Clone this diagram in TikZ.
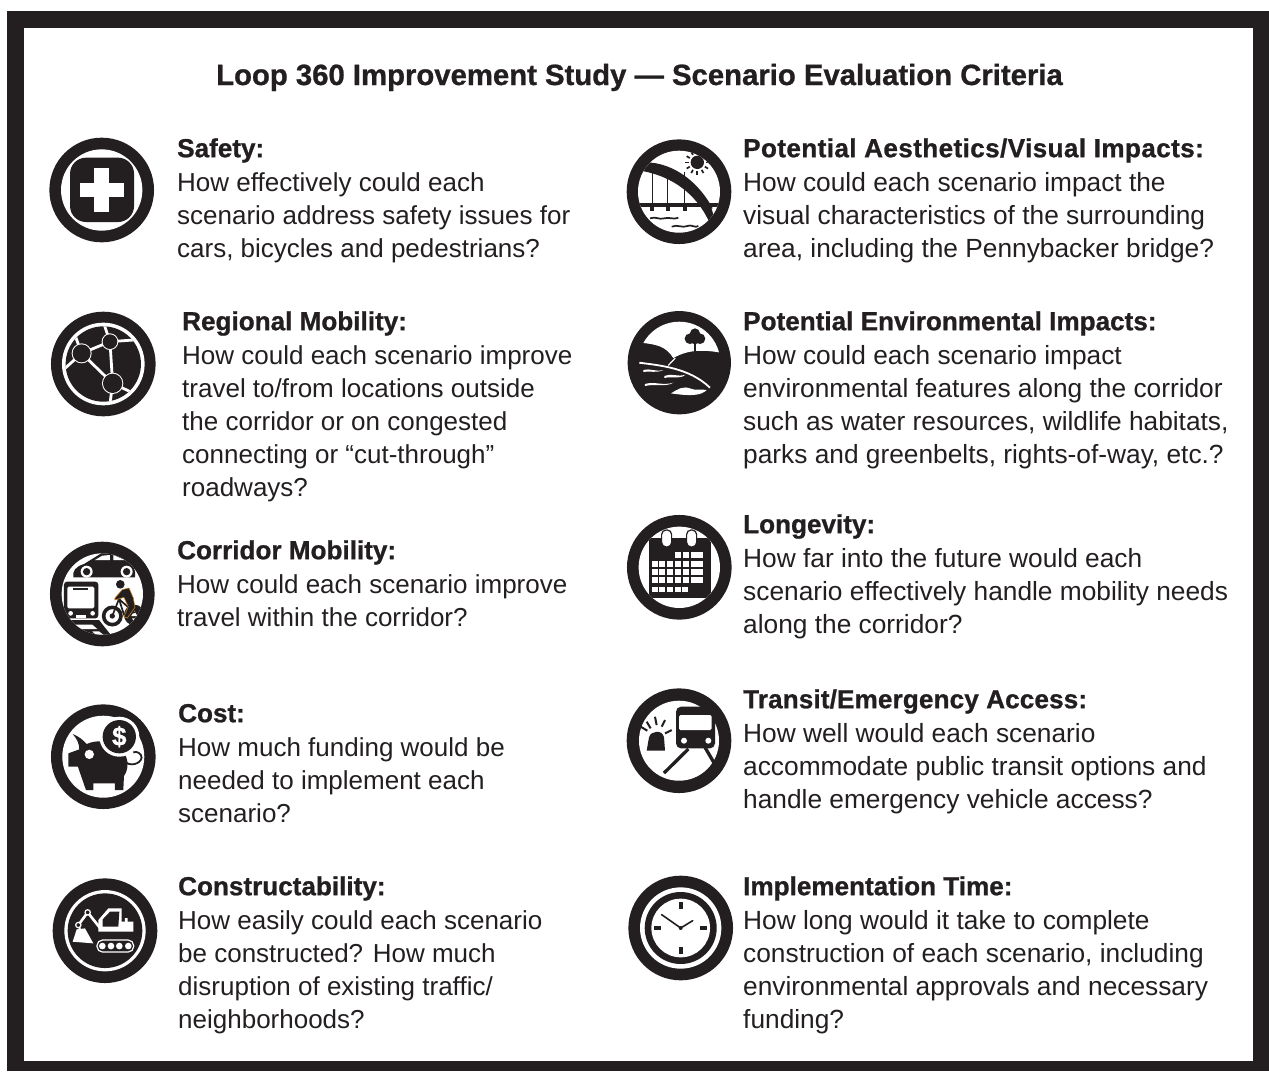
\documentclass[tikz,border=0pt]{standalone}
\usepackage{fontspec}
\usetikzlibrary{calc}
\setmainfont{Liberation Sans}
\newfontfamily\headfam[FakeBold=0.9]{Liberation Sans Bold}
\definecolor{ink}{HTML}{231F20}
\definecolor{bikeorange}{HTML}{C47A1E}
\newcommand\headfont{\headfam\fontsize{26.1}{33}\selectfont}
\newcommand\crit[6][26]{\node[crit,font={\fontsize{#1}{33.05}\selectfont}] (#2) at ({#3},{#4-25}) {\rule{0pt}{24pt}{\headfont #5}\\[1pt] #6};}
\tikzset{
  crit/.style={anchor=north west,align=left,inner sep=0pt,text=ink},
  icon/.style={shift={#1},x=0.3333pt,y=-0.3333pt,line cap=butt},
  wl/.style={draw=white,line width=#1},
  bl/.style={draw=ink,line width=#1},
}
\newcommand\ringicon[1]{\fill[ink] (0,0) circle (157);\fill[white] (0,0) circle (#1);}
\begin{document}
\begin{tikzpicture}[x=1pt,y=-1pt]
\useasboundingbox (0,0) rectangle (1269,1071);
\fill[white] (0,0) rectangle (1269,1071);
\fill[ink] (7,11) rectangle (1269,1071);
\fill[white] (24,28) rectangle (1253,1061);
\node[anchor=base,inner sep=0pt,text=ink,font={\headfam\fontsize{29.3}{34}\selectfont}] (title) at (639.5,85) {Loop 360 Improvement Study — Scenario Evaluation Criteria};

\crit{safety}{177}{158}{Safety:}{How effectively could each\\scenario address safety issues for\\cars, bicycles and pedestrians?}
\crit{regional}{182}{331}{Regional Mobility:}{How could each scenario improve\\travel to/from locations outside\\the corridor or on congested\\connecting or “cut-through”\\roadways?}
\crit{corridor}{177}{560}{Corridor Mobility:}{How could each scenario improve\\travel within the corridor?}
\crit{cost}{178}{723}{Cost:}{How much funding would be\\needed to implement each\\scenario?}
\crit{construct}{178}{896}{Constructability:}{How easily could each scenario\\be constructed? How much\\disruption of existing traffic/\\neighborhoods?}
\crit[26.3]{aesthetic}{743}{158}{\addfontfeature{LetterSpace=1.5}Potential Aesthetics/Visual Impacts:}{How could each scenario impact the\\visual characteristics of the surrounding\\area, including the Pennybacker bridge?}
\crit[26.3]{environ}{743}{331}{Potential Environmental Impacts:}{How could each scenario impact\\environmental features along the corridor\\such as water resources, wildlife habitats,\\parks and greenbelts, rights-of-way, etc.?}
\crit[26.3]{longevity}{743}{534}{Longevity:}{How far into the future would each\\scenario effectively handle mobility needs\\along the corridor?}
\crit[26.3]{transit}{743}{709}{\addfontfeature{LetterSpace=0.5}Transit/Emergency Access:}{How well would each scenario\\accommodate public transit options and\\handle emergency vehicle access?}
\crit[26.3]{implement}{743}{896}{Implementation Time:}{How long would it take to complete\\construction of each scenario, including\\environmental approvals and necessary\\funding?}

% Safety
\begin{scope}[icon={(101.7,190)}]
\ringicon{122}
\fill[ink,rounded corners=16pt] (-95,-97) rectangle (97,96);
\fill[white] (-23,-66) rectangle (23,66);
\fill[white] (-66,-22) rectangle (66,22);
\end{scope}

% Regional mobility
\begin{scope}[icon={(103.3,364)}]
\ringicon{124}
\fill[ink] (0,0) circle (113);
\begin{scope}
\clip (0,0) circle (113);
\foreach \a/\b/\c/\d in {-65/-32/20/-67,20/-67/28/58,-65/-32/28/58,-65/-32/-125/22,-65/-32/-88/-95,20/-67/2/-120,20/-67/90/-72,28/58/20/120,28/58/85/85}
  \draw[wl=2.8pt] (\a,\b) -- (\c,\d);
\end{scope}
\foreach \a/\b/\r in {-65/-32/27,20/-67/22,28/58/29}{
  \fill[white] (\a,\b) circle (\r+3);
  \fill[ink] (\a,\b) circle (\r);
}
\end{scope}

% Corridor mobility
\begin{scope}[icon={(102.3,594)}]
\ringicon{122}
\begin{scope}
\clip (0,0) circle (122);
% car
\fill[ink] (-87,-50) .. controls (-90,-70) and (-80,-82) .. (-55,-90) -- (-3,-122) -- (42,-122) -- (78,-100) .. controls (95,-90) and (100,-75) .. (98,-50) -- cycle;
\fill[white] (-22,-102) -- (0,-115) -- (23,-117) -- (23,-102) -- cycle;
\fill[white] (33,-117) -- (68,-102) -- (33,-102) -- cycle;
\foreach \a in {-47,73}{\fill[white] (\a,-67) circle (18);\fill[ink] (\a,-67) circle (11);}
% train
\fill[ink,rounded corners=3pt] (-115,-37) rectangle (-12,73);
\fill[white,rounded corners=1.5pt] (-105,-22) rectangle (-24,43);
\fill[ink] (-87,-18) rectangle (-42,-12);
\fill[white] (-95,58) circle (7);\fill[white] (-29,58) circle (7);
\fill[white] (-78,62) rectangle (-50,72);
% rails
\fill[ink] (-125,78) -- (-10,78) -- (25,122) -- (-95,122) -- cycle;
\fill[white] (-88,92) -- (-30,92) -- (-15,105) -- (-95,105) -- cycle;
\fill[white] (-30,112) -- (-10,112) -- (3,122) -- (-20,122) -- cycle;
% bike
\draw[bl=3.6pt] (30,66) circle (26);
\fill[ink] (30,66) circle (8);
\fill[ink] (96,63) circle (31);
\fill[white] (96,50) -- (105,66) -- (87,66) -- cycle;
\fill[white] (89,73) -- (103,73) -- (96,83) -- cycle;
\fill[ink] (54,-29) circle (13);
\draw[ink,line width=1.7pt] (30,66) -- (50,15) -- (95,55) -- (65,62) -- (50,15);
\fill[ink,draw=bikeorange,line width=0.6pt,line join=round] (38,12) -- (60,-13) -- (80,-18) -- (93,12) -- (98,40) -- (75,72) -- (65,68) -- (78,38) -- (65,10) -- (38,18) -- cycle;
\end{scope}
\end{scope}

% Cost
\begin{scope}[icon={(103.3,756.7)}]
\ringicon{123}
\fill[ink] (-92,-68) .. controls (-75,-62) and (-60,-50) .. (-50,-38) .. controls (-20,-52) and (30,-50) .. (55,-20) .. controls (80,5) and (75,40) .. (62,58) -- (60,100) -- (35,100) -- (35,80) -- (-30,80) -- (-30,100) -- (-52,100) -- (-70,48) -- (-76,30) -- (-105,30) -- (-105,-10) -- (-72,-22) .. controls (-72,-40) and (-80,-55) .. (-92,-68) -- cycle;
\fill[white] (-42,-7) circle (14);
\draw[bl=1.8pt] (62,12) .. controls (78,32) and (112,22) .. (115,3) .. controls (115,-10) and (100,-18) .. (90,-13);
\fill[white] (48,-60) circle (60);
\fill[ink] (48,-60) circle (50);
\node[text=white,inner sep=0pt,font={\headfam\fontsize{26}{26}\selectfont}] (costsign) at (48,-60) {\$};
\end{scope}

% Constructability
\begin{scope}[icon={(105,930.7)}]
\ringicon{122}
\fill[ink] (0,0) circle (112);
% excavator
\fill[white] (-97,33) -- (-85,-4) -- (-60,-7) -- (-35,38) -- cycle;
\draw[wl=2.6pt,line join=round] (-80,-17) -- (-52,-55) -- (-10,-2);
\draw[wl=1.8pt] (-80,-17) -- (-75,-5);
\fill[ink] (-80,-17) circle (6);\draw[wl=1.2pt] (-80,-17) circle (8);
\fill[ink] (-52,-55) circle (6);\draw[wl=1.2pt] (-52,-55) circle (8);
\fill[white] (-20,-32) -- (10,-67) -- (50,-67) -- (50,-27) -- (60,-27) -- (60,-38) -- (68,-38) -- (68,-27) -- (85,-27) -- (85,3) -- (-20,3) -- cycle;
\fill[ink] (-7,-34) -- (15,-57) -- (43,-57) -- (40,-12) -- (-7,-12) -- cycle;
\draw[wl=1.2pt,rounded corners=5.5pt] (-24,28) rectangle (86,64);
\foreach \a in {-8,18,43,70}{\fill[white] (\a,46) circle (10);}
\end{scope}

% Aesthetics
\begin{scope}[icon={(679,191.7)}]
\ringicon{123}
\begin{scope}
\clip (0,0) circle (123);
\draw[bl=1.7pt] (-87,80) .. controls (-70,73) and (-60,85) .. (-45,80) .. controls (-30,75) and (-15,85) .. (-2,78);
\draw[bl=1.7pt] (-22,105) .. controls (-5,97) and (10,110) .. (25,103) .. controls (35,97) and (50,110) .. (58,103);
\foreach \a in {-80,-34,17}{\draw[ink,line width=1.4pt] (\a,-60) -- (\a,35);\fill[ink] (\a-6,46) rectangle (\a+6,58);}
\fill[ink] (-125,33) rectangle (130,47);
\fill[ink] (-100,-88) .. controls (-20,-88) and (70,-30) .. (118,85) -- (100,115) .. controls (75,40) and (10,-40) .. (-110,-62) -- cycle;
\fill[white] (98,50) -- (120,50) -- (104,72) -- cycle;
\fill[ink] (55,-88) circle (20);
\foreach \a in {0,30,...,330}{\draw[ink,line width=1.7pt] ($(55,-88)+(\a:26)$) -- ($(55,-88)+(\a:37)$);}
\end{scope}
\end{scope}

% Environmental
\begin{scope}[icon={(679.3,362.7)}]
\fill[ink] (0,0) circle (155);
\begin{scope}
\clip (0,0) circle (123);
\fill[white] (-115,-60) -- (-125,-130) -- (125,-130) -- (125,-30) .. controls (80,-38) and (30,-42) .. (-18,-14) .. controls (-40,-50) and (-70,-55) .. (-115,-60) -- cycle;
\end{scope}
\draw[wl=1.8pt] (-120,0) .. controls (-60,8) and (30,15) .. (92,75);
\draw[wl=1.2pt] (-33,8) -- (-12,-14);
\fill[ink] (47,-88) circle (15);\fill[ink] (32,-72) circle (16);\fill[ink] (62,-72) circle (16);\fill[ink] (47,-70) circle (15);
\fill[ink] (44.5,-70) rectangle (49.5,-28);
\fill[white] (-108,22) .. controls (-85,16) and (-75,28) .. (-48,22) .. controls (-70,32) and (-85,24) .. (-108,28) -- cycle;
\fill[white] (-45,40) .. controls (-25,30) and (-5,44) .. (18,36) .. controls (5,50) and (-25,40) .. (-45,46) -- cycle;
\fill[white] (-103,64) .. controls (-75,55) and (-50,70) .. (-18,60) .. controls (-40,74) and (-75,62) .. (-103,70) -- cycle;
\fill[white] (-25,92) .. controls (-5,80) and (10,68) .. (35,78) .. controls (50,85) and (65,78) .. (82,82) .. controls (65,100) and (30,100) .. (-25,92) -- cycle;
\end{scope}

% Longevity
\begin{scope}[icon={(679.3,567.3)}]
\ringicon{122}
\begin{scope}
\clip (0,0) circle (122);
\fill[ink] (-90,-89) rectangle (94,93);
\end{scope}
\foreach \a in {-38,37}{\draw[bl=1.2pt,fill=white,rounded corners=4.5pt] (\a-15,-112) rectangle (\a+15,-61);}
\foreach \a in {-5,18,42,62}{\fill[white] (\a-8,-45) rectangle (\a+10,-27);}
\foreach \b in {-18,6,30}{\foreach \a in {-75,-52,-28,-5,18,42,62}{\fill[white] (\a-8,\b) rectangle (\a+10,\b+18);}}
\foreach \a in {-75,-52,-28,-5,17}{\fill[white] (\a-8,58) rectangle (\a+10,73);}
\end{scope}

% Transit
\begin{scope}[icon={(679,740.7)}]
\ringicon{120}
\fill[ink,rounded corners=5pt] (-9,-102) rectangle (108,23);
\fill[white,rounded corners=1.5pt] (0,-77) rectangle (98,-32);
\fill[white] (15,0) circle (9);\fill[white] (88,0) circle (9);
\draw[bl=3.3pt] (28,25) -- (-45,97);
\draw[bl=3.3pt] (78,20) -- (113,80);
\fill[ink] (-97,30) -- (-90,-10) .. controls (-85,-30) and (-50,-35) .. (-45,-10) -- (-42,30) -- cycle;
\foreach \a/\b/\c/\d in {-125/-48/-95/-30,-97/-57/-85/-37,-72/-72/-67/-47,-42/-62/-52/-42,-22/-32/-42/-22}{\draw[bl=2pt] (\a,\b) -- (\c,\d);}
\end{scope}

% Implementation time
\begin{scope}[icon={(680.7,928)}]
\ringicon{122}
\fill[ink] (0,0) circle (108);
\fill[white] (0,0) circle (88);
\fill[ink] (-6,-78) rectangle (6,-57);
\fill[ink] (-6,57) rectangle (6,78);
\fill[ink] (-80,-6) rectangle (-59,6);
\fill[ink] (59,-6) rectangle (80,6);
\draw[bl=1.6pt,line cap=round] (-57,-40) -- (0,0) -- (36,-22);
\fill[ink] (0,0) circle (6);
\end{scope}
\end{tikzpicture}
\end{document}
